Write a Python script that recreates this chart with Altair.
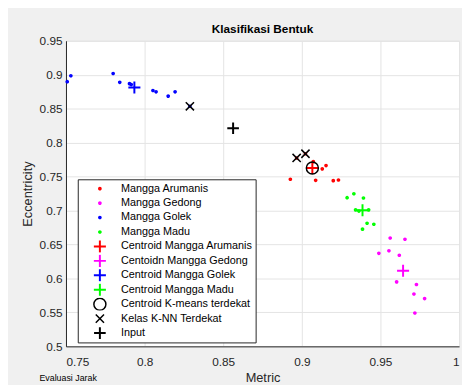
import altair as alt
import pandas as pd

# ---- data ----
arumanis_x = [0.8927, 0.8967, 0.9023, 0.9073, 0.9088, 0.9130, 0.9154, 0.9200, 0.9233]
arumanis_y = [0.7460, 0.7774, 0.7836, 0.7720, 0.7445, 0.7614, 0.7662, 0.7440, 0.7450]
gedong_x = [0.9562, 0.9656, 0.9490, 0.9554, 0.9620, 0.9603, 0.9729, 0.9713, 0.9781, 0.9719]
gedong_y = [0.6596, 0.6577, 0.6370, 0.6408, 0.6341, 0.5950, 0.5911, 0.5771, 0.5704, 0.5491]
golek_x = [0.7508, 0.7531, 0.7800, 0.7842, 0.7904, 0.7915, 0.8053, 0.8073, 0.8150, 0.8194, 0.8288]
golek_y = [0.8897, 0.8984, 0.9018, 0.8888, 0.8868, 0.8855, 0.8767, 0.8748, 0.8685, 0.8748, 0.8535]
madu_x = [0.9288, 0.9331, 0.9392, 0.9342, 0.9363, 0.9425, 0.9415, 0.9458, 0.9386]
madu_y = [0.7189, 0.7247, 0.7185, 0.7010, 0.6992, 0.7010, 0.6813, 0.6798, 0.6726]

centroid_arumanis = (0.9067, 0.7625)
centroid_gedong = (0.9644, 0.6114)
centroid_golek = (0.7935, 0.8810)
centroid_madu = (0.9386, 0.7003)
kmeans_nearest = (0.9067, 0.7625)
knn_x = [0.8288, 0.8967, 0.9023]
knn_y = [0.8535, 0.7774, 0.7836]
input_pt = (0.8563, 0.8212)

labels = [
    "Mangga Arumanis", "Mangga Gedong", "Mangga Golek", "Mangga Madu",
    "Centroid Mangga Arumanis", "Centoidn Mangga Gedong", "Centroid Mangga Golek",
    "Centroid Mangga Madu", "Centroid K-means terdekat", "Kelas K-NN Terdekat", "Input",
]
colors = ["#ff0000", "#ff00ff", "#0000ff", "#00ff00",
          "#ff0000", "#ff00ff", "#0000ff", "#00ff00",
          "#000000", "#000000", "#000000"]
PLUS = "M-1,0H1M0,-1V1"
XSHAPE = "M-1,-1L1,1M-1,1L1,-1"
shapes = ["circle"] * 4 + [PLUS] * 4 + ["circle", XSHAPE, PLUS]
sizes = [3, 3, 3, 3, 150, 150, 150, 150, 150, 70, 140]
widths = [2, 2, 2, 2, 2, 2, 2, 2, 1.5, 1.5, 2]

rows = []
def add(xs, ys, lab):
    for a, b in zip(xs, ys):
        rows.append({"x": a, "y": b, "series": lab})

add(arumanis_x, arumanis_y, labels[0])
add(gedong_x, gedong_y, labels[1])
add(golek_x, golek_y, labels[2])
add(madu_x, madu_y, labels[3])
add([centroid_arumanis[0]], [centroid_arumanis[1]], labels[4])
add([centroid_gedong[0]], [centroid_gedong[1]], labels[5])
add([centroid_golek[0]], [centroid_golek[1]], labels[6])
add([centroid_madu[0]], [centroid_madu[1]], labels[7])
add([kmeans_nearest[0]], [kmeans_nearest[1]], labels[8])
add(knn_x, knn_y, labels[9])
add([input_pt[0]], [input_pt[1]], labels[10])
df = pd.DataFrame(rows)

FONT = "Liberation Sans"

points = alt.Chart(df).mark_point(filled=False, opacity=1).encode(
    x=alt.X("x:Q", title="Metric",
            scale=alt.Scale(domain=[0.75, 1.0], nice=False, zero=False),
            axis=alt.Axis(values=[0.75, 0.8, 0.85, 0.9, 0.95, 1.0], format=".2~f",
                          labelPadding=10, titlePadding=5)),
    y=alt.Y("y:Q", title="Eccentricity",
            scale=alt.Scale(domain=[0.5, 0.95], nice=False, zero=False),
            axis=alt.Axis(values=[0.5, 0.55, 0.6, 0.65, 0.7, 0.75, 0.8, 0.85, 0.9, 0.95],
                          format=".2~f", labelPadding=4, titlePadding=5)),
    color=alt.Color("series:N", scale=alt.Scale(domain=labels, range=colors),
                    legend=alt.Legend(title=None, orient="none", legendX=12, legendY=141,
                                      fillColor="white", strokeColor="#262626",
                                      padding=3, symbolOffset=12, labelOffset=14,
                                      rowPadding=1.7, clipHeight=13, labelFontSize=11,
                                      labelFont=FONT, labelColor="#000000",
                                      labelLimit=300)),
    shape=alt.Shape("series:N", scale=alt.Scale(domain=labels, range=shapes)),
    size=alt.Size("series:N", scale=alt.Scale(type="ordinal", domain=labels, range=sizes)),
    strokeWidth=alt.StrokeWidth("series:N",
                                scale=alt.Scale(type="ordinal", domain=labels, range=widths)),
)

note = alt.Chart(pd.DataFrame({"t": ["Evaluasi Jarak"]})).mark_text(
    align="left", baseline="middle", fontSize=9, font=FONT, color="#000000"
).encode(x=alt.value(-27), y=alt.value(343), text="t:N")

chart = alt.layer(points, note).properties(
    width=400, height=311,
    title=alt.TitleParams("Klasifikasi Bentuk", fontSize=12, fontWeight="bold",
                          font=FONT, color="#000000", offset=-1),
    autosize=alt.AutoSizeParams(type="none"),
    padding={"left": 59, "top": 30, "right": 3, "bottom": 36},
).configure(background="#f0f0f0").configure_view(
    fill="white", stroke="#e3e3e3"
).configure_axis(
    labelFont=FONT, titleFont=FONT, labelFontSize=12, titleFontSize=13,
    labelColor="#262626", titleColor="#262626", titleFontWeight="normal",
    gridColor="#e3e3e3", domainColor="#262626", ticks=False,
)

chart.save("out.html", embed_options={"renderer": "svg", "actions": False})
